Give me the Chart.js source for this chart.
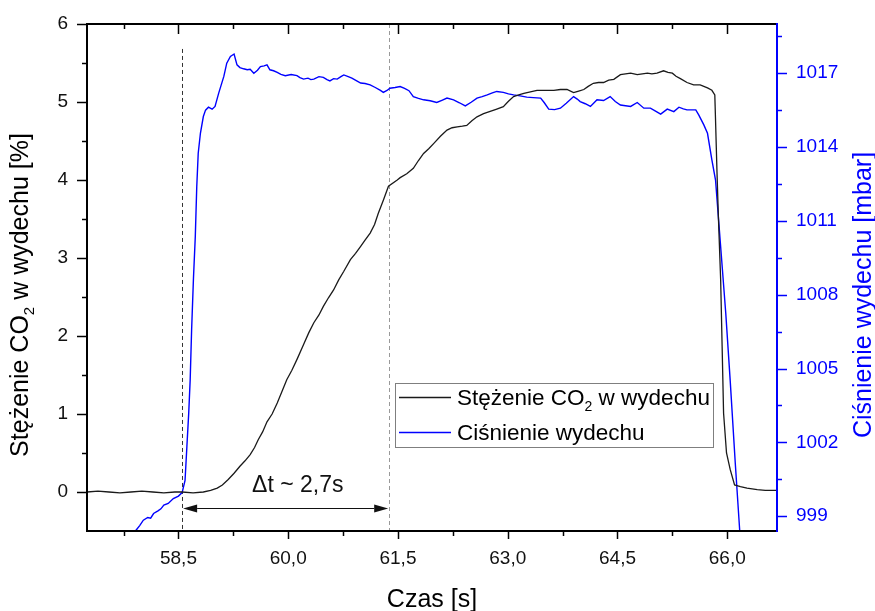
<!DOCTYPE html>
<html><head><meta charset="utf-8">
<script src="https://cdn.jsdelivr.net/npm/chart.js@4/dist/chart.umd.min.js"></script>
<style>html,body{margin:0;padding:0;background:#fff}#wrap{width:875px;height:611px}</style>
</head><body><div id="wrap"><canvas id="c" width="875" height="611"></canvas></div>
<script>
// ---------- DATA ----------
const co2Time = [57.25,57.40,57.55,57.70,57.85,58.00,58.15,58.30,58.45,58.55,58.70,58.84,58.94,59.03,59.10,59.18,59.26,59.34,59.41,59.48,59.54,59.59,59.65,59.71,59.78,59.85,59.92,59.98,60.05,60.12,60.21,60.28,60.35,60.42,60.48,60.55,60.62,60.69,60.76,60.85,60.92,60.99,61.05,61.12,61.18,61.23,61.30,61.37,61.49,61.53,61.62,61.71,61.78,61.85,61.92,61.99,62.08,62.17,62.24,62.31,62.38,62.44,62.51,62.58,62.67,62.76,62.85,62.94,63.01,63.08,63.15,63.22,63.31,63.40,63.52,63.63,63.72,63.81,63.90,63.97,64.04,64.10,64.17,64.24,64.31,64.38,64.45,64.54,64.61,64.68,64.77,64.84,64.91,64.97,65.04,65.13,65.19,65.25,65.30,65.36,65.45,65.54,65.63,65.73,65.79,65.83,65.84,65.86,65.88,65.91,65.93,65.95,65.99,66.04,66.10,66.18,66.27,66.41,66.52,66.68];
const co2Values = [0.00,0.01,0.00,-0.01,0.00,0.01,0.00,-0.01,0.00,0.00,-0.01,0.00,0.02,0.05,0.09,0.16,0.24,0.33,0.40,0.48,0.57,0.67,0.77,0.90,1.00,1.14,1.30,1.44,1.56,1.70,1.89,2.04,2.17,2.27,2.38,2.49,2.59,2.72,2.83,2.98,3.06,3.15,3.23,3.32,3.43,3.57,3.74,3.92,4.00,4.03,4.08,4.15,4.25,4.34,4.40,4.47,4.56,4.64,4.67,4.68,4.69,4.70,4.76,4.81,4.85,4.88,4.91,4.94,5.01,5.07,5.09,5.11,5.13,5.15,5.15,5.15,5.16,5.16,5.12,5.14,5.16,5.20,5.24,5.25,5.25,5.28,5.29,5.35,5.36,5.37,5.35,5.36,5.37,5.36,5.37,5.40,5.38,5.37,5.33,5.30,5.25,5.22,5.22,5.18,5.15,5.09,4.77,4.10,3.50,2.72,1.87,1.01,0.50,0.29,0.09,0.07,0.05,0.03,0.02,0.02];

const presTime = [57.85,57.92,57.97,58.02,58.08,58.12,58.16,58.22,58.26,58.30,58.36,58.43,58.50,58.55,58.59,58.615,58.64,58.66,58.68,58.705,58.73,58.75,58.77,58.80,58.84,58.87,58.91,58.96,59.00,59.05,59.12,59.16,59.21,59.26,59.30,59.34,59.39,59.44,59.48,59.53,59.58,59.62,59.67,59.71,59.75,59.80,59.85,59.90,59.96,60.04,60.12,60.16,60.21,60.27,60.31,60.35,60.42,60.48,60.53,60.57,60.62,60.67,60.72,60.76,60.82,60.87,60.93,60.99,61.05,61.12,61.19,61.26,61.30,61.35,61.39,61.46,61.53,61.59,61.65,61.71,61.78,61.85,61.94,62.03,62.10,62.17,62.26,62.34,62.42,62.50,62.58,62.65,62.72,62.79,62.85,62.94,63.01,63.08,63.17,63.26,63.35,63.45,63.50,63.56,63.64,63.72,63.80,63.90,63.95,63.99,64.06,64.13,64.18,64.22,64.31,64.40,64.47,64.54,64.61,64.68,64.77,64.86,64.95,65.02,65.09,65.18,65.27,65.34,65.40,65.45,65.57,65.61,65.68,65.73,65.79,65.84,65.91,65.98,66.04,66.11,66.17,66.20];
const presValues = [998.10,998.43,998.62,998.84,998.95,998.92,999.11,999.22,999.30,999.45,999.52,999.72,999.82,999.96,1000.46,1001.82,1003.18,1004.53,1006.60,1008.67,1010.36,1012.39,1013.75,1014.56,1015.24,1015.50,1015.62,1015.54,1015.65,1016.19,1016.87,1017.41,1017.68,1017.78,1017.34,1017.23,1017.18,1017.14,1017.16,1017.00,1017.12,1017.27,1017.30,1017.34,1017.14,1017.10,1017.03,1016.95,1016.90,1016.95,1016.90,1016.82,1016.76,1016.80,1016.74,1016.76,1016.86,1016.83,1016.74,1016.69,1016.78,1016.76,1016.86,1016.93,1016.86,1016.80,1016.70,1016.60,1016.58,1016.53,1016.42,1016.30,1016.22,1016.30,1016.39,1016.42,1016.46,1016.38,1016.29,1016.05,1015.98,1015.92,1015.88,1015.81,1015.90,1015.99,1015.92,1015.80,1015.67,1015.82,1015.99,1016.05,1016.12,1016.20,1016.26,1016.22,1016.16,1016.12,1016.08,1016.03,1016.01,1015.99,1015.80,1015.54,1015.52,1015.58,1015.78,1016.05,1015.95,1015.85,1015.76,1015.65,1015.80,1015.92,1015.89,1016.05,1015.85,1015.71,1015.68,1015.65,1015.81,1015.58,1015.58,1015.46,1015.34,1015.54,1015.44,1015.62,1015.55,1015.51,1015.51,1015.31,1014.90,1014.56,1013.48,1012.66,1009.95,1007.24,1004.53,1001.14,998.43,997.40];

const xTicks = [58.5, 60.0, 61.5, 63.0, 64.5, 66.0];
const leftTicks = [0, 1, 2, 3, 4, 5, 6];
const rightTicks = [999, 1002, 1005, 1008, 1011, 1014, 1017];
const seriesLabels = ['Stężenie CO₂ w wydechu', 'Ciśnienie wydechu'];
const xTitle = 'Czas [s]';
const leftTitle = 'Stężenie CO₂ w wydechu [%]';
const rightTitle = 'Ciśnienie wydechu [mbar]';
const markerTimes = [58.55, 61.38];
const markerTops = [5.68, 6.0];
const arrowLevel = -0.21;
const deltaLabel = 'Δt ~ 2,7s';
const deltaPos = [60.13, 0.0];

// ---------- STYLE ----------
const FONT = '"Liberation Sans", Arial, sans-serif';
const BLACK = '#1a1a1a';
const BLUE = '#0000ff';
const TITLE_SIZE = 25;
const LEGEND_SIZE = 22.5;

function richWidth(ctx, text, size) {
  const parts = text.split('₂');
  ctx.font = size + 'px ' + FONT;
  let w = ctx.measureText(parts[0]).width;
  if (parts.length > 1) {
    w += ctx.measureText(parts[1]).width;
    ctx.font = Math.round(size * 0.6) + 'px ' + FONT;
    w += ctx.measureText('2').width;
  }
  return w;
}
function drawRich(ctx, text, x, y, size, color) {
  const parts = text.split('₂');
  ctx.fillStyle = color;
  ctx.textAlign = 'left';
  ctx.textBaseline = 'alphabetic';
  ctx.font = size + 'px ' + FONT;
  ctx.fillText(parts[0], x, y);
  let cx = x + ctx.measureText(parts[0]).width;
  if (parts.length > 1) {
    const ss = Math.round(size * 0.6);
    ctx.font = ss + 'px ' + FONT;
    ctx.fillText('2', cx, y + size * 0.25);
    cx += ctx.measureText('2').width;
    ctx.font = size + 'px ' + FONT;
    ctx.fillText(parts[1], cx, y);
  }
}
function minorOf(majors, lo, hi) {
  const step = majors[1] - majors[0];
  const out = [];
  const first = majors[0] - step / 2;
  for (let v = first; v <= hi + 1e-9; v += step) if (v >= lo - 1e-9) out.push(v);
  return out;
}

const deco = {
  id: 'deco',
  beforeDatasetsDraw(chart) {
    const ctx = chart.ctx, xs = chart.scales.x, ys = chart.scales.y, a = chart.chartArea;
    ctx.save();
    const cols = ['#333333', '#999999'];
    markerTimes.forEach((t, i) => {
      const x = Math.round(xs.getPixelForValue(t)) + 0.5;
      ctx.strokeStyle = cols[i];
      ctx.lineWidth = 1;
      ctx.setLineDash([4, 3]);
      ctx.beginPath();
      ctx.moveTo(x, ys.getPixelForValue(markerTops[i]));
      ctx.lineTo(x, a.bottom);
      ctx.stroke();
    });
    ctx.setLineDash([]);
    const x1 = xs.getPixelForValue(markerTimes[0]) + 1, x2 = xs.getPixelForValue(markerTimes[1]) - 1;
    const y = Math.round(ys.getPixelForValue(arrowLevel)) + 0.5;
    const hl = 14, hh = 4;
    ctx.strokeStyle = '#111';
    ctx.fillStyle = '#111';
    ctx.lineWidth = 1;
    ctx.beginPath(); ctx.moveTo(x1 + hl, y); ctx.lineTo(x2 - hl, y); ctx.stroke();
    ctx.beginPath(); ctx.moveTo(x1, y); ctx.lineTo(x1 + hl, y - hh); ctx.lineTo(x1 + hl, y + hh); ctx.closePath(); ctx.fill();
    ctx.beginPath(); ctx.moveTo(x2, y); ctx.lineTo(x2 - hl, y - hh); ctx.lineTo(x2 - hl, y + hh); ctx.closePath(); ctx.fill();
    ctx.font = '23px ' + FONT;
    ctx.textAlign = 'center';
    ctx.textBaseline = 'alphabetic';
    ctx.fillText(deltaLabel, xs.getPixelForValue(deltaPos[0]), ys.getPixelForValue(deltaPos[1]));
    ctx.restore();
  },
  afterDatasetsDraw(chart) {
    const ctx = chart.ctx, xs = chart.scales.x, ys = chart.scales.y, yr = chart.scales.y1, a = chart.chartArea;
    ctx.save();
    ctx.lineWidth = 2;
    ctx.strokeStyle = '#000';
    ctx.beginPath();
    ctx.moveTo(a.right, a.top); ctx.lineTo(a.left, a.top); ctx.lineTo(a.left, a.bottom); ctx.lineTo(a.right, a.bottom);
    ctx.stroke();
    ctx.strokeStyle = BLUE;
    ctx.beginPath(); ctx.moveTo(a.right, a.top - 1); ctx.lineTo(a.right, a.bottom + 1); ctx.stroke();
    ctx.lineWidth = 1.5;
    const tickX = (vals, len) => {
      vals.forEach(v => {
        const x = Math.round(xs.getPixelForValue(v)) + 0.5;
        ctx.strokeStyle = '#000';
        ctx.beginPath(); ctx.moveTo(x, a.bottom); ctx.lineTo(x, a.bottom + len[0]); ctx.stroke();
        ctx.beginPath(); ctx.moveTo(x, a.top); ctx.lineTo(x, a.top + len[1]); ctx.stroke();
      });
    };
    tickX(xTicks, [8, 10]);
    tickX(minorOf(xTicks, xs.min, xs.max).filter(v => v > xs.min + 0.02 && v < xs.max - 0.02), [5, 5]);
    const tickY = (scale, vals, len, side, color) => {
      ctx.strokeStyle = color;
      vals.forEach(v => {
        const y = Math.round(scale.getPixelForValue(v)) + 0.5;
        ctx.beginPath();
        if (side === 'l') { ctx.moveTo(a.left, y); ctx.lineTo(a.left - len, y); }
        else { ctx.moveTo(a.right, y); ctx.lineTo(a.right + len, y); }
        ctx.stroke();
      });
    };
    tickY(ys, leftTicks, 10, 'l', '#000');
    tickY(ys, minorOf(leftTicks, ys.min + 0.01, ys.max), 5, 'l', '#000');
    tickY(yr, rightTicks, 10, 'r', BLUE);
    tickY(yr, minorOf(rightTicks, yr.min + 0.01, yr.max), 5, 'r', BLUE);
    ctx.save();
    let w = richWidth(ctx, leftTitle, TITLE_SIZE);
    ctx.translate(28, 295); ctx.rotate(-Math.PI / 2);
    drawRich(ctx, leftTitle, -w / 2, 0, TITLE_SIZE, '#000');
    ctx.restore();
    ctx.save();
    w = richWidth(ctx, rightTitle, TITLE_SIZE);
    ctx.translate(871, 295); ctx.rotate(-Math.PI / 2);
    drawRich(ctx, rightTitle, -w / 2, 0, TITLE_SIZE, BLUE);
    ctx.restore();
    w = richWidth(ctx, xTitle, TITLE_SIZE);
    drawRich(ctx, xTitle, (a.left + a.right) / 2 - w / 2, 607, TITLE_SIZE, '#000');
    const lx = 395, ly = 383, lw = 318, lh = 64;
    ctx.fillStyle = '#fff';
    ctx.fillRect(lx, ly, lw, lh);
    ctx.strokeStyle = '#7f7f7f';
    ctx.lineWidth = 1;
    ctx.strokeRect(lx + 0.5, ly + 0.5, lw, lh);
    chart.data.datasets.forEach((ds, i) => {
      const base = 405 + i * 35;
      ctx.strokeStyle = ds.borderColor;
      ctx.lineWidth = 1.3;
      ctx.beginPath(); ctx.moveTo(399, base - 7.5); ctx.lineTo(451, base - 7.5); ctx.stroke();
      drawRich(ctx, ds.label, 457, base, LEGEND_SIZE, '#000');
    });
    ctx.restore();
  }
};

const setTicks = arr => scale => { scale.ticks = arr.map(v => ({ value: v })); };
const fitV = w => s => { s.width = w; s.paddingTop = 0; s.paddingBottom = 0; };
const fitH = h => s => { s.height = h; s.paddingLeft = 0; s.paddingRight = 0; };

new Chart(document.getElementById('c'), {
  type: 'scatter',
  data: {
    datasets: [
      { label: seriesLabels[0], data: co2Time.map((t, i) => ({ x: t, y: co2Values[i] })), yAxisID: 'y',
        showLine: true, borderColor: BLACK, borderWidth: 1.3, pointRadius: 0, fill: false },
      { label: seriesLabels[1], data: presTime.map((t, i) => ({ x: t, y: presValues[i] })), yAxisID: 'y1',
        showLine: true, borderColor: BLUE, borderWidth: 1.4, pointRadius: 0, fill: false }
    ]
  },
  options: {
    responsive: false, animation: false, devicePixelRatio: 1,
    layout: { padding: { top: 24, left: 0, right: 0, bottom: 0 } },
    plugins: { legend: { display: false }, tooltip: { enabled: false } },
    scales: {
      x: { type: 'linear', position: 'bottom', min: 57.25, max: 66.68,
        afterBuildTicks: setTicks(xTicks), afterFit: fitH(80),
        grid: { display: false, drawTicks: false }, border: { display: false },
        ticks: { padding: 16, color: '#111', font: { family: FONT, size: 19 }, maxRotation: 0, autoSkip: false,
          callback: v => Number(v).toFixed(1).replace('.', ',') } },
      y: { type: 'linear', position: 'left', min: -0.5, max: 6,
        afterBuildTicks: setTicks(leftTicks), afterFit: fitV(87),
        grid: { display: false, drawTicks: false }, border: { display: false },
        ticks: { padding: 19, color: '#111', font: { family: FONT, size: 19 }, autoSkip: false, callback: v => String(v) } },
      y1: { type: 'linear', position: 'right', min: 998.4, max: 1019,
        afterBuildTicks: setTicks(rightTicks), afterFit: fitV(98),
        grid: { display: false, drawTicks: false }, border: { display: false },
        ticks: { padding: 19, color: BLUE, font: { family: FONT, size: 19 }, autoSkip: false, callback: v => String(v) } }
    }
  },
  plugins: [deco]
});
</script>
</body></html>
